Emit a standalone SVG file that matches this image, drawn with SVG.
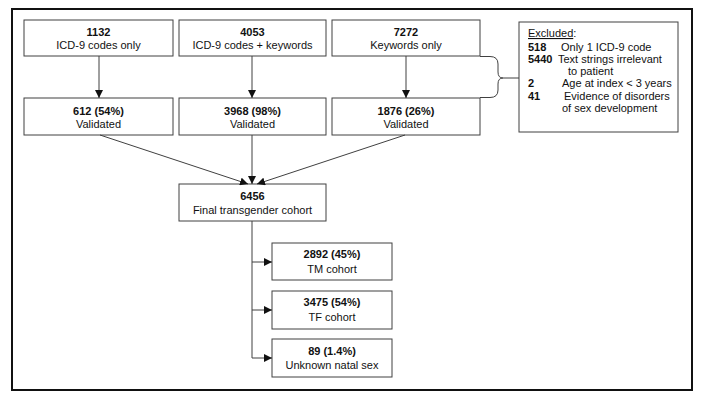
<svg xmlns="http://www.w3.org/2000/svg" width="705" height="402" viewBox="0 0 705 402">
<style>
.box{fill:#fff;stroke:#404040;stroke-width:1}
.t{font-family:"Liberation Sans",Arial,sans-serif;font-size:11px;fill:#111;text-anchor:middle}
.b{font-weight:bold}
.e{font-family:"Liberation Sans",Arial,sans-serif;font-size:11px;fill:#111}
.c{fill:none;stroke:#404040;stroke-width:1}
</style>
<defs>
<marker id="ah" markerUnits="userSpaceOnUse" markerWidth="8" markerHeight="8" refX="8" refY="4" orient="auto">
<path d="M0,0 L8,4 L0,8 z" fill="#111"/>
</marker>
</defs>
<rect x="0" y="0" width="705" height="402" fill="#fff"/>
<rect x="12" y="9" width="680" height="381" fill="none" stroke="#111" stroke-width="2"/>
<g id="n1"><rect class="box" x="24" y="20" width="149" height="36"/>
<text class="t b" x="98.5" y="35.5">1132</text><text class="t" x="98.5" y="49">ICD-9 codes only</text></g>
<g id="n2"><rect class="box" x="179" y="20" width="147" height="36"/>
<text class="t b" x="252.5" y="35.5">4053</text><text class="t" x="252.5" y="49">ICD-9 codes + keywords</text></g>
<g id="n3"><rect class="box" x="332" y="20" width="148" height="36"/>
<text class="t b" x="406" y="35.5">7272</text><text class="t" x="406" y="49">Keywords only</text></g>
<g id="n4"><rect class="box" x="24" y="98" width="149" height="37"/>
<text class="t b" x="98.5" y="114.5">612 (54%)</text><text class="t" x="98.5" y="128">Validated</text></g>
<g id="n5"><rect class="box" x="179" y="98" width="147" height="37"/>
<text class="t b" x="252.5" y="114.5">3968 (98%)</text><text class="t" x="252.5" y="128">Validated</text></g>
<g id="n6"><rect class="box" x="332" y="98" width="148" height="37"/>
<text class="t b" x="406" y="114.5">1876 (26%)</text><text class="t" x="406" y="128">Validated</text></g>
<g id="excluded"><rect class="box" x="519" y="22" width="159" height="110"/>
<text class="e" x="528" y="37"><tspan text-decoration="underline">Excluded</tspan>:</text>
<text class="e b" x="528" y="51">518</text><text class="e" x="561" y="51">Only 1 ICD-9 code</text>
<text class="e b" x="528" y="63">5440</text><text class="e" x="558" y="63">Text strings irrelevant</text>
<text class="e" x="568" y="74.5">to patient</text>
<text class="e b" x="528" y="87">2</text><text class="e" x="562" y="87">Age at index &lt; 3 years</text>
<text class="e b" x="528" y="100">41</text><text class="e" x="564" y="100">Evidence of disorders</text>
<text class="e" x="562" y="111.5">of sex development</text></g>
<g id="final"><rect class="box" x="179" y="184" width="147" height="37"/>
<text class="t b" x="252.5" y="200">6456</text><text class="t" x="252.5" y="213.5">Final transgender cohort</text></g>
<g id="tm"><rect class="box" x="272" y="243" width="120" height="37"/>
<text class="t b" x="332" y="258">2892 (45%)</text><text class="t" x="332" y="273">TM cohort</text></g>
<g id="tf"><rect class="box" x="272" y="291" width="120" height="38"/>
<text class="t b" x="332" y="306">3475 (54%)</text><text class="t" x="332" y="321">TF cohort</text></g>
<g id="unknown"><rect class="box" x="272" y="339" width="120" height="38"/>
<text class="t b" x="332" y="354.5">89 (1.4%)</text><text class="t" x="332" y="369">Unknown natal sex</text></g>
<g id="connectors">
<path class="c" d="M99,56 V98" marker-end="url(#ah)"/>
<path class="c" d="M252,56 V98" marker-end="url(#ah)"/>
<path class="c" d="M406,56 V98" marker-end="url(#ah)"/>
<path class="c" d="M100,135 L248,184" marker-end="url(#ah)"/>
<path class="c" d="M252,135 V184" marker-end="url(#ah)"/>
<path class="c" d="M405,135 L257,184" marker-end="url(#ah)"/>
<path class="c" d="M252,221 V358"/>
<path class="c" d="M252,262 H272" marker-end="url(#ah)"/>
<path class="c" d="M252,310 H272" marker-end="url(#ah)"/>
<path class="c" d="M252,358 H272" marker-end="url(#ah)"/>
<path class="c" d="M480,56.5 H490 Q498,56.5 498,64 V72 Q498,78 503,78 H519 M503,78 Q498,78 498,84 V90 Q498,97.5 490,97.5 H480"/>
</g>
</svg>
